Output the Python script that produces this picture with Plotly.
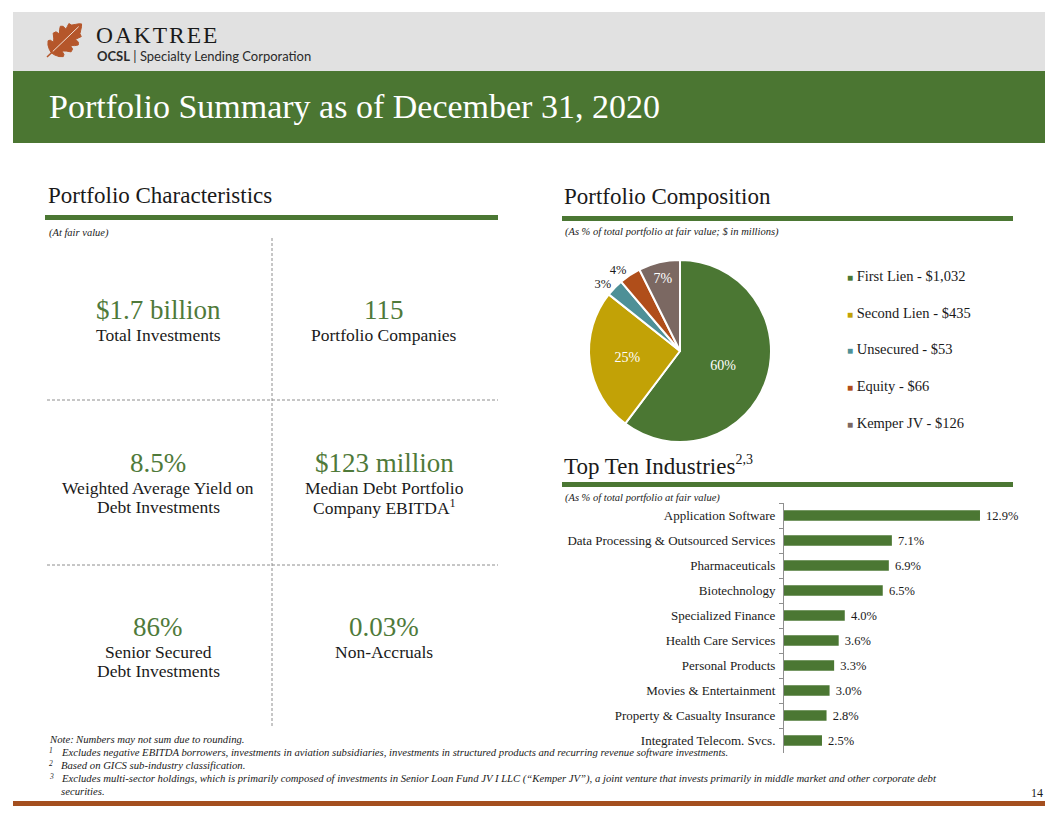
import math
import plotly.graph_objects as go

# ---------------- data ----------------
comp_labels = ["First Lien", "Second Lien", "Unsecured", "Equity", "Kemper JV"]
comp_values = [1032, 435, 53, 66, 126]
comp_colors = ["#4B7733", "#C2A206", "#4E9097", "#B04E1A", "#7B6862"]
comp_textpos = ["inside", "inside", "outside", "outside", "inside"]

ind_labels = ["Application Software", "Data Processing & Outsourced Services",
              "Pharmaceuticals", "Biotechnology", "Specialized Finance",
              "Health Care Services", "Personal Products", "Movies & Entertainment",
              "Property & Casualty Insurance", "Integrated Telecom. Svcs."]
ind_values = [12.9, 7.1, 6.9, 6.5, 4.0, 3.6, 3.3, 3.0, 2.8, 2.5]

kpi_values = ["$1.7 billion", "115", "8.5%", "$123 million", "86%", "0.03%"]
kpi_captions = [["Total Investments"], ["Portfolio Companies"],
                ["Weighted Average Yield on", "Debt Investments"],
                ["Median Debt Portfolio", "Company EBITDA<sup>1</sup>"],
                ["Senior Secured", "Debt Investments"], ["Non-Accruals"]]

foot_marks = ["Note:", "1", "2", "3", ""]
foot_texts = ["Numbers may not sum due to rounding.",
              "Excludes negative EBITDA borrowers, investments in aviation subsidiaries, investments in structured products and recurring revenue software investments.",
              "Based on GICS sub-industry classification.",
              "Excludes multi-sector holdings, which is primarily composed of investments in Senior Loan Fund JV I LLC (\u201cKemper JV\u201d), a joint venture that invests primarily in middle market and other corporate debt",
              "securities."]

title_text = "Portfolio Summary as of December 31, 2020"
page_no = "14"

# ---------------- helpers ----------------
OX, OY = 8, 8
W, H = 1040, 800
SERIF = "Liberation Serif, Times New Roman, serif"
SANS = "Lato, Open Sans, sans-serif"
GREEN = "#4B7733"
KGREEN = "#4F7A3A"
DARK = "#1a1a1a"


def X(p):
    return (p - OX) / W


def Y(p):
    return 1 - (p - OY) / H


shapes = []
annotations = []


def rect(x0, y0, x1, y1, color):
    shapes.append(dict(type="rect", xref="paper", yref="paper",
                       x0=X(x0), x1=X(x1), y0=Y(y1), y1=Y(y0),
                       fillcolor=color, line=dict(width=0), layer="below"))


def dline(x0, y0, x1, y1):
    shapes.append(dict(type="line", xref="paper", yref="paper",
                       x0=X(x0), x1=X(x1), y0=Y(y0), y1=Y(y1),
                       line=dict(color="#8e8e8e", width=1, dash="3px,2px")))


def text(x, y, s, size, color=DARK, anchor="left", family=SERIF):
    annotations.append(dict(xref="paper", yref="paper", x=X(x), y=Y(y),
                            text=s, showarrow=False, xanchor=anchor,
                            yanchor="middle",
                            font=dict(family=family, size=size, color=color)))


# ---------------- background blocks ----------------
rect(13, 12, 1045, 71, "#E1E1E1")
rect(13, 71, 1045, 143, "#4B7632")
rect(13, 801, 1045, 806, "#A44F1F")
rect(45, 215, 498, 220, GREEN)
rect(562, 216, 1013, 221, GREEN)
rect(562, 482, 1013, 487, GREEN)

# oak leaf logo
side = [(6, 0), (7, 4), (9, 8), (12, 11), (14, 10), (15, 6), (18, 9), (21, 13),
        (24, 12), (25, 8), (28, 11), (31, 13), (33, 11), (33, 7), (36, 8),
        (39, 9), (40, 6), (43, 4), (46, 2), (48, 0)]
outline = side + [(u, -v) for (u, v) in reversed(side[1:-1])]
bx, by = 47, 57
du = (0.72, -0.69)
dv = (0.69, 0.72)


def leaf_pt(u, v):
    px = bx + u * du[0] + v * dv[0]
    py = by + u * du[1] + v * dv[1]
    return f"{X(px):.5f},{Y(py):.5f}"


path = "M " + " L ".join(leaf_pt(u, v) for (u, v) in outline) + " Z"
shapes.append(dict(type="path", xref="paper", yref="paper", path=path,
                   fillcolor="#B5562A", line=dict(color="#B5562A", width=1)))
shapes.append(dict(type="path", xref="paper", yref="paper",
                   path="M " + leaf_pt(0, 0) + " L " + leaf_pt(7, 0),
                   line=dict(color="#B5562A", width=1.5)))
shapes.append(dict(type="path", xref="paper", yref="paper",
                   path="M " + leaf_pt(8, 0) + " L " + leaf_pt(44, 0),
                   line=dict(color="#F3E1D6", width=1)))

text(94, 35, "O\u200aA\u200aK\u200aT\u200aR\u200aE\u200aE", 23.5, "#1a1a1a")
text(95, 56, "<b>OCSL</b> | Specialty Lending Corporation", 13, "#2a2a2a", family=SANS)
text(47, 106, title_text, 34, "#FFFFFF")

# ---------------- section headings ----------------
text(46, 195, "Portfolio Characteristics", 23)
text(47, 233, "<i>(At fair value)</i>", 10.5)
text(562, 196, "Portfolio Composition", 23)
text(563, 232, "<i>(As % of total portfolio at fair value; $ in millions)</i>", 10.5)
text(562, 465, "Top Ten Industries<sup><span style='font-size:14px'>2,3</span></sup>", 23)
text(563, 498, "<i>(As % of total portfolio at fair value)</i>", 10.5)

# ---------------- KPI grid ----------------
dline(272, 238, 272, 726)
dline(47, 400, 498, 400)
dline(47, 565, 498, 565)
col_x = [158, 384]
row_y = [310, 463, 627]
for i, (val, cap) in enumerate(zip(kpi_values, kpi_captions)):
    cx = col_x[i % 2]
    ry = row_y[i // 2]
    text(cx, ry, val, 27, KGREEN, anchor="center")
    for j, line in enumerate(cap):
        text(cx, ry + 25 + 19 * j, line, 17.5, anchor="center")

# ---------------- pie legend ----------------
for i, (lab, val, col) in enumerate(zip(comp_labels, comp_values, comp_colors)):
    text(845, 276 + 36.7 * i,
         f"<span style='color:{col};font-size:10px'>\u25A0</span> {lab} - ${val:,}",
         14.5)

# ---------------- footnotes ----------------
FS = 10.7
for i, (m, t) in enumerate(zip(foot_marks, foot_texts)):
    y = 739 + 13 * i
    if m == "Note:":
        text(47, y, "<i>Note:</i>", FS)
        text(73, y, f"<i>{t}</i>", FS)
    else:
        if m:
            text(47, y - 2, f"<i>{m}</i>", 7.5)
        text(59, y, f"<i>{t}</i>", FS)
text(1045, 793, page_no, 12, anchor="right")

# ---------------- traces ----------------
fig = go.Figure()
fig.add_trace(go.Pie(
    labels=comp_labels, values=comp_values, sort=False, direction="clockwise",
    rotation=0, marker=dict(colors=comp_colors, line=dict(color="white", width=2)),
    texttemplate="%{percent:.0%}", textposition=comp_textpos,
    insidetextorientation="horizontal",
    insidetextfont=dict(family=SERIF, size=14, color="white"),
    outsidetextfont=dict(family=SERIF, size=12.5, color=DARK),
    domain=dict(x=[X(589), X(771)], y=[Y(442), Y(260)]),
    showlegend=False, hoverinfo="skip"))

fig.add_trace(go.Bar(
    y=ind_labels, x=ind_values, orientation="h",
    text=["\u00a0" + f"{v:.1f}%" for v in ind_values], textposition="outside",
    outsidetextfont=dict(family=SERIF, size=12.5, color=DARK),
    constraintext="none",
    marker=dict(color=GREEN, line=dict(width=0)), width=0.42,
    cliponaxis=False, showlegend=False, hoverinfo="skip",
    xaxis="x", yaxis="y"))

fig.update_layout(
    width=W, height=H, margin=dict(l=0, r=0, t=0, b=0),
    paper_bgcolor="white", plot_bgcolor="rgba(0,0,0,0)",
    shapes=shapes, annotations=annotations,
    xaxis=dict(domain=[X(784), X(1040)], range=[0, 16.85], visible=False,
               fixedrange=True, anchor="y"),
    yaxis=dict(domain=[Y(753), Y(503)], type="category", autorange="reversed",
               showline=True, linecolor="#8f8f8f", linewidth=1,
               ticks="outside", tickson="boundaries", ticklen=4,
               tickcolor="#8f8f8f", ticklabelstandoff=5, showgrid=False,
               tickfont=dict(family=SERIF, size=13, color=DARK),
               fixedrange=True, anchor="x"),
)

fig.write_html("out.html")
